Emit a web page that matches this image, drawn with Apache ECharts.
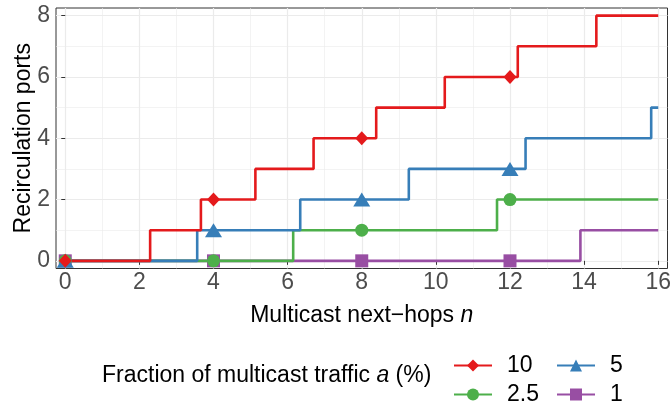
<!DOCTYPE html>
<html>
<head>
<meta charset="utf-8">
<script src="https://cdn.jsdelivr.net/npm/echarts@6/dist/echarts.min.js"></script>
<style>html,body{margin:0;padding:0;background:#fff}#c{width:671px;height:405px}</style>
</head>
<body>
<div id="c"></div>
<script>
// ---- data ----
const seriesNames = ['10', '5', '2.5', '1'];
const colors = { '10': '#E41A1C', '5': '#377EB8', '2.5': '#4DAF4A', '1': '#984EA3' };

// step change points (x where a new level starts, and that level)
const stepX10 = [0, 2.29, 3.66, 5.13, 6.70, 8.39, 10.24, 12.21, 14.33, 16];
const stepY10 = [0, 1, 2, 3, 4, 5, 6, 7, 8, 8];
const stepX5 = [0, 3.56, 6.34, 9.27, 12.42, 15.81, 16];
const stepY5 = [0, 1, 2, 3, 4, 5, 5];
const stepX25 = [0, 6.15, 11.65, 16];
const stepY25 = [0, 1, 2, 2];
const stepX1 = [0, 13.90, 16];
const stepY1 = [0, 1, 1];

// markers
const markX = [0, 4, 8, 12];
const mark10 = [0, 2, 4, 6];
const mark5 = [0, 1, 2, 3];
const mark25 = [0, 0, 1, 2];
const mark1 = [0, 0, 0, 0];

// axis ticks
const xTicks = [0, 2, 4, 6, 8, 10, 12, 14, 16];
const xMinor = [1, 3, 5, 7, 9, 11, 13, 15];
const yTicks = [0, 2, 4, 6, 8];
const yMinor = [1, 3, 5, 7];

const FONT = 'Liberation Sans, Arial, Helvetica, sans-serif';

function build(sx, sy, mx, my) {
  const pts = sx.map((x, i) => ({ x: x, y: sy[i], m: false }));
  mx.forEach((x, i) => {
    const ex = pts.find(p => p.x === x);
    if (ex) ex.m = true; else pts.push({ x: x, y: my[i], m: true });
  });
  pts.sort((a, b) => a.x - b.x);
  return pts.map(p => p.m ? { value: [p.x, p.y] } : { value: [p.x, p.y], symbol: 'none' });
}

function stepSeries(name, sx, sy, my, symbol, size) {
  return {
    type: 'line', name: name, step: 'end',
    data: build(sx, sy, markX, my),
    symbol: symbol, symbolSize: size, showSymbol: true, showAllSymbol: true,
    lineStyle: { color: colors[name], width: 2.6 },
    itemStyle: { color: colors[name], borderWidth: 0 },
    emphasis: { disabled: true }, silent: true, z: 3
  };
}

const major = { color: '#EBEBEB', width: 1.2, type: 'solid' };
const minor = { color: '#EBEBEB', width: 0.6, type: 'solid' };
const gridLines = []
  .concat(xMinor.map(v => ({ xAxis: v, lineStyle: minor })))
  .concat(yMinor.map(v => ({ yAxis: v, lineStyle: minor })))
  .concat(xTicks.map(v => ({ xAxis: v, lineStyle: major })))
  .concat(yTicks.map(v => ({ yAxis: v, lineStyle: major })));

const legendBase = {
  itemWidth: 38, itemHeight: 15, padding: 0, selectedMode: false,
  textStyle: { fontSize: 23, color: '#000', fontFamily: FONT, padding: [0, 0, 0, 10] }
};

const option = {
  animation: false,
  grid: { left: 56, right: 3.5, top: 8, bottom: 136.5, show: true, borderColor: '#333', borderWidth: 1,
    backgroundColor: 'transparent', containLabel: false, outerBoundsMode: 'none' },
  xAxis: {
    type: 'value', min: -0.25, max: 16.25,
    axisLine: { show: false }, splitLine: { show: false },
    axisTick: { show: true, customValues: xTicks, length: 4, lineStyle: { color: '#333', width: 1 } },
    axisLabel: { customValues: xTicks, fontSize: 23, color: '#4D4D4D', fontFamily: FONT, margin: 3,
      alignMinLabel: 'center', alignMaxLabel: 'center', hideOverlap: false },
    name: 'Multicast next\u2212hops {i|n}', nameLocation: 'middle', nameGap: 36,
    nameTextStyle: { fontSize: 23, color: '#000', fontFamily: FONT, rich: { i: { fontStyle: 'italic', fontSize: 23, fontFamily: FONT, color: '#000' } } }
  },
  yAxis: {
    type: 'value', min: -0.25, max: 8.25,
    axisLine: { show: false }, splitLine: { show: false },
    axisTick: { show: true, customValues: yTicks, length: 4, lineStyle: { color: '#333', width: 1 } },
    axisLabel: { customValues: yTicks, fontSize: 23, color: '#4D4D4D', fontFamily: FONT, margin: 6,
      verticalAlign: 'middle', verticalAlignMinLabel: 'middle', verticalAlignMaxLabel: 'middle',
      padding: [9, 0, 0, 0], hideOverlap: false },
    name: 'Recirculation ports', nameLocation: 'middle', nameGap: 21, nameRotate: 90, nameMoveOverlap: false,
    nameTextStyle: { fontSize: 23, color: '#000', fontFamily: FONT }
  },
  legend: [
    Object.assign({ data: ['10'], left: 453, top: 354 }, legendBase),
    Object.assign({ data: ['5'], left: 556, top: 354 }, legendBase),
    Object.assign({ data: ['2.5'], left: 453, top: 383 }, legendBase),
    Object.assign({ data: ['1'], left: 556, top: 383 }, legendBase)
  ],
  graphic: [{
    type: 'text', x: 102, y: 376, silent: true,
    style: {
      text: 'Fraction of multicast traffic {i|a} (%)', fontSize: 23, fontFamily: FONT, fill: '#000',
      verticalAlign: 'middle', align: 'left',
      rich: { i: { fontStyle: 'italic', fontSize: 23, fontFamily: FONT, fill: '#000' } }
    }
  }],
  series: [
    {
      type: 'line', name: '__grid', data: [], silent: true, z: 0,
      markLine: { silent: true, symbol: 'none', z: 0, label: { show: false }, emphasis: { disabled: true }, animation: false, data: gridLines }
    },
    stepSeries('1', stepX1, stepY1, mark1, 'rect', 13),
    stepSeries('2.5', stepX25, stepY25, mark25, 'circle', 13),
    stepSeries('5', stepX5, stepY5, mark5, 'triangle', [17, 14]),
    stepSeries('10', stepX10, stepY10, mark10, 'diamond', [13, 14])
  ]
};

const chart = echarts.init(document.getElementById('c'), null, { renderer: 'canvas' });
chart.setOption(option);
</script>
</body>
</html>
